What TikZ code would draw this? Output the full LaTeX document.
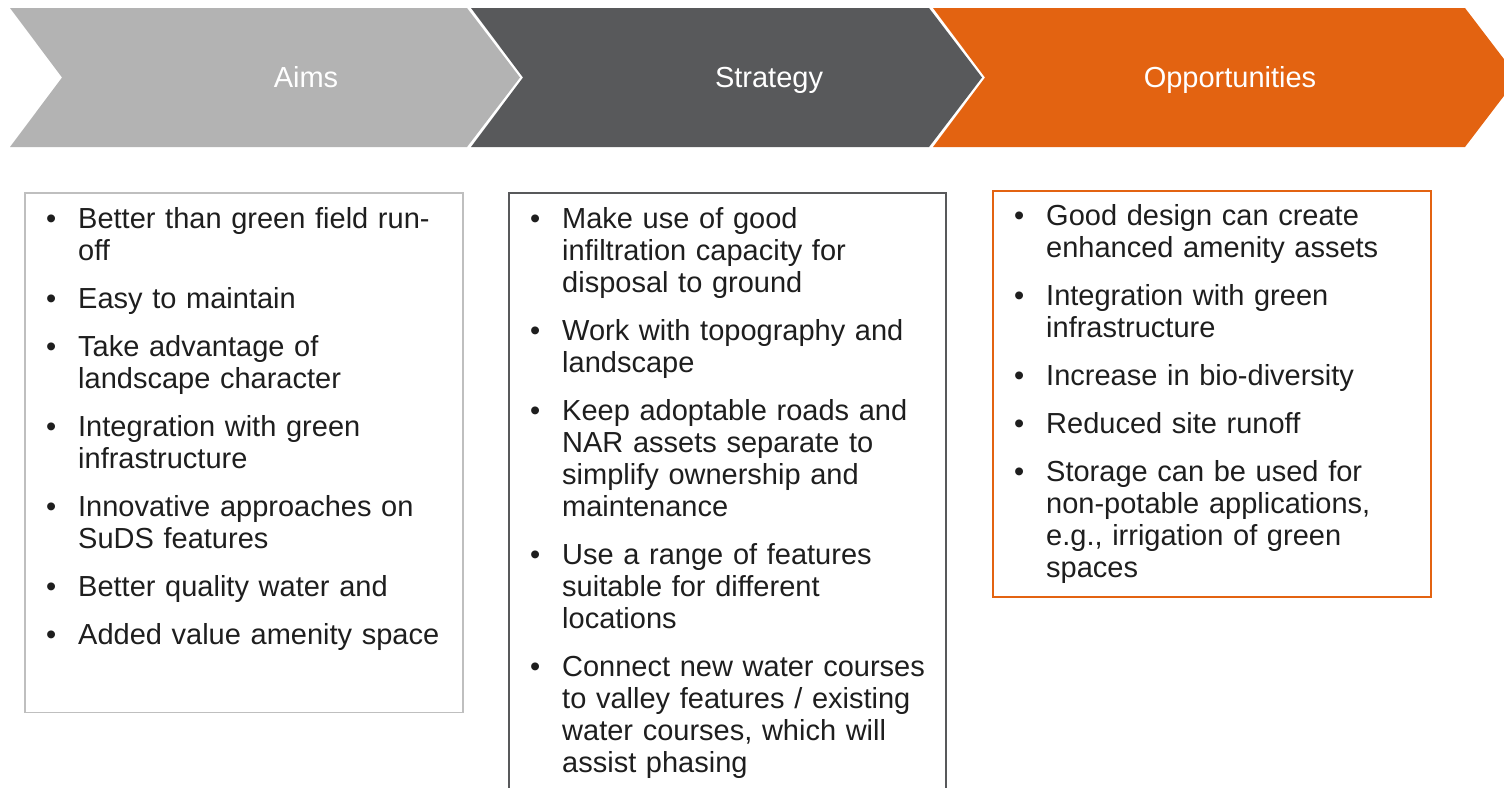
\documentclass[tikz,border=0pt]{standalone}
\usepackage{fontspec}
\setmainfont{Liberation Sans}
\usetikzlibrary{positioning}
\definecolor{aimgray}{RGB}{179,179,179}
\definecolor{stratgray}{RGB}{88,89,91}
\definecolor{oppor}{RGB}{227,99,17}
\definecolor{panelgray}{RGB}{191,191,191}
\definecolor{bodytext}{RGB}{30,30,30}
\tikzstyle{chevron label}=[text=white,font=\fontsize{29}{32}\selectfont,anchor=base,inner sep=0pt]
\tikzstyle{panel}=[draw,line width=1.5pt]
\tikzstyle{bullets}=[text=bodytext,font=\fontsize{29}{32}\selectfont,text width=380pt,align=left,anchor=base west,inner sep=0pt]
\newcommand{\itm}[1]{\leavevmode\llap{\textbullet\hspace{22pt}}#1\par}

\begin{document}
\begin{tikzpicture}[x=1pt,y=-1pt]
    \useasboundingbox (0,0) rectangle (1504,787);
    \clip (0,0) rectangle (1504,787);

    % First we draw the chevrons
    \foreach \x/\w/\col in {10/457/aimgray, 471/458/stratgray, 933/532/oppor}
        \fill[\col] (\x,8) -- ++(\w,0) -- ++(53,69.5) -- ++(-53,69.5) -- ++(-\w,0) -- ++(52,-69.5) -- cycle;

    \node[chevron label] (aims) at (306,87) {Aims};
    \node[chevron label] (strategy) at (769,87) {Strategy};
    \node[chevron label] (opps) at (1230,87) {Opportunities};

    % Then the three panels
    \draw[panel,panelgray] (25,193) rectangle (463,712.5);
    \draw[panel,stratgray] (509,193) rectangle (946,800);
    \draw[panel,oppor] (993,191) rectangle (1431,597);

    % Bullet lists
    \node[bullets] (aimlist) at (78,228.5) {\setlength{\parskip}{16pt}%
        \itm{Better than green field run-\\off}%
        \itm{Easy to maintain}%
        \itm{Take advantage of\\landscape character}%
        \itm{Integration with green\\infrastructure}%
        \itm{Innovative approaches on\\SuDS features}%
        \itm{Better quality water and}%
        \itm{Added value amenity space}};
    \node[bullets] (stratlist) at (562,228.5) {\setlength{\parskip}{16pt}%
        \itm{Make use of good\\infiltration capacity for\\disposal to ground}%
        \itm{Work with topography and\\landscape}%
        \itm{Keep adoptable roads and\\NAR assets separate to\\simplify ownership and\\maintenance}%
        \itm{Use a range of features\\suitable for different\\locations}%
        \itm{Connect new water courses\\to valley features / existing\\water courses, which will\\assist phasing}};
    \node[bullets] (opplist) at (1046,225.5) {\setlength{\parskip}{16pt}%
        \itm{Good design can create\\enhanced amenity assets}%
        \itm{Integration with green\\infrastructure}%
        \itm{Increase in bio-diversity}%
        \itm{Reduced site runoff}%
        \itm{Storage can be used for\\non-potable applications,\\e.g., irrigation of green\\spaces}};
\end{tikzpicture}
\end{document}
